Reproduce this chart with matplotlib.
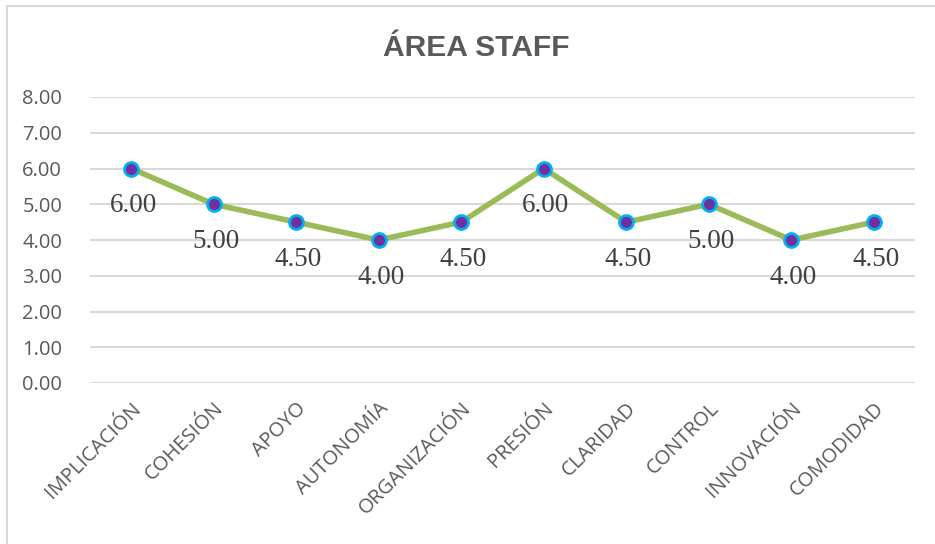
import matplotlib.pyplot as plt
from matplotlib.lines import Line2D

categories = ['IMPLICACIÓN', 'COHESIÓN', 'APOYO', 'AUTONOMÍA', 'ORGANIZACIÓN',
              'PRESIÓN', 'CLARIDAD', 'CONTROL', 'INNOVACIÓN', 'COMODIDAD']
values = [6.0, 5.0, 4.5, 4.0, 4.5, 6.0, 4.5, 5.0, 4.0, 4.5]
y_ticks = [0, 1, 2, 3, 4, 5, 6, 7, 8]

W, H = 935, 544
fig = plt.figure(figsize=(W / 100, H / 100), dpi=100)
ax = fig.add_axes([90 / W, 1 - 383 / H, 825 / W, 286 / H])

x = list(range(len(categories)))
ax.plot(x, values, color='#9bbb59', linewidth=4, zorder=3,
        marker='o', markersize=10, markerfacecolor='#7030a0',
        markeredgecolor='#00b0f0', markeredgewidth=2)

for xi, v in zip(x, values):
    ax.annotate(f'{v:.2f}', (xi, v), xytext=(2, -37), textcoords='offset pixels',
                ha='center', va='center', fontsize=19.5, color='#404040',
                family='Liberation Serif')

ax.set_xlim(-0.5, len(categories) - 0.5)
ax.set_ylim(0, 8)
ax.set_yticks(y_ticks)
ax.set_yticklabels([f'{t:.2f}' for t in y_ticks], fontsize=14.5,
                   color='#595959', family='Open Sans')
ax.set_xticks(x)
ax.set_xticklabels(categories, rotation=45, ha='right', va='top',
                   rotation_mode='anchor', fontsize=14.5, color='#595959',
                   family='Open Sans')
ax.tick_params(length=0)
ax.tick_params(axis='y', pad=20)
ax.tick_params(axis='x', pad=11)
ax.grid(axis='y', color='#d9d9d9', linewidth=1.5)
ax.set_axisbelow(True)
for s in ax.spines.values():
    s.set_visible(False)

fig.text(476 / W, 1 - 48 / H, 'ÁREA STAFF', ha='center', va='center',
         fontsize=21.6, fontweight='bold', color='#595959',
         family='Liberation Sans')

# chart border (left and top edges visible)
fig.add_artist(Line2D([7 / W, 7 / W], [0, 1 - 6 / H], transform=fig.transFigure,
                      color='#d9d9d9', linewidth=1.5))
fig.add_artist(Line2D([7 / W, 1], [1 - 6 / H, 1 - 6 / H], transform=fig.transFigure,
                      color='#d9d9d9', linewidth=1.5))

fig.savefig('out.png', dpi=100)
